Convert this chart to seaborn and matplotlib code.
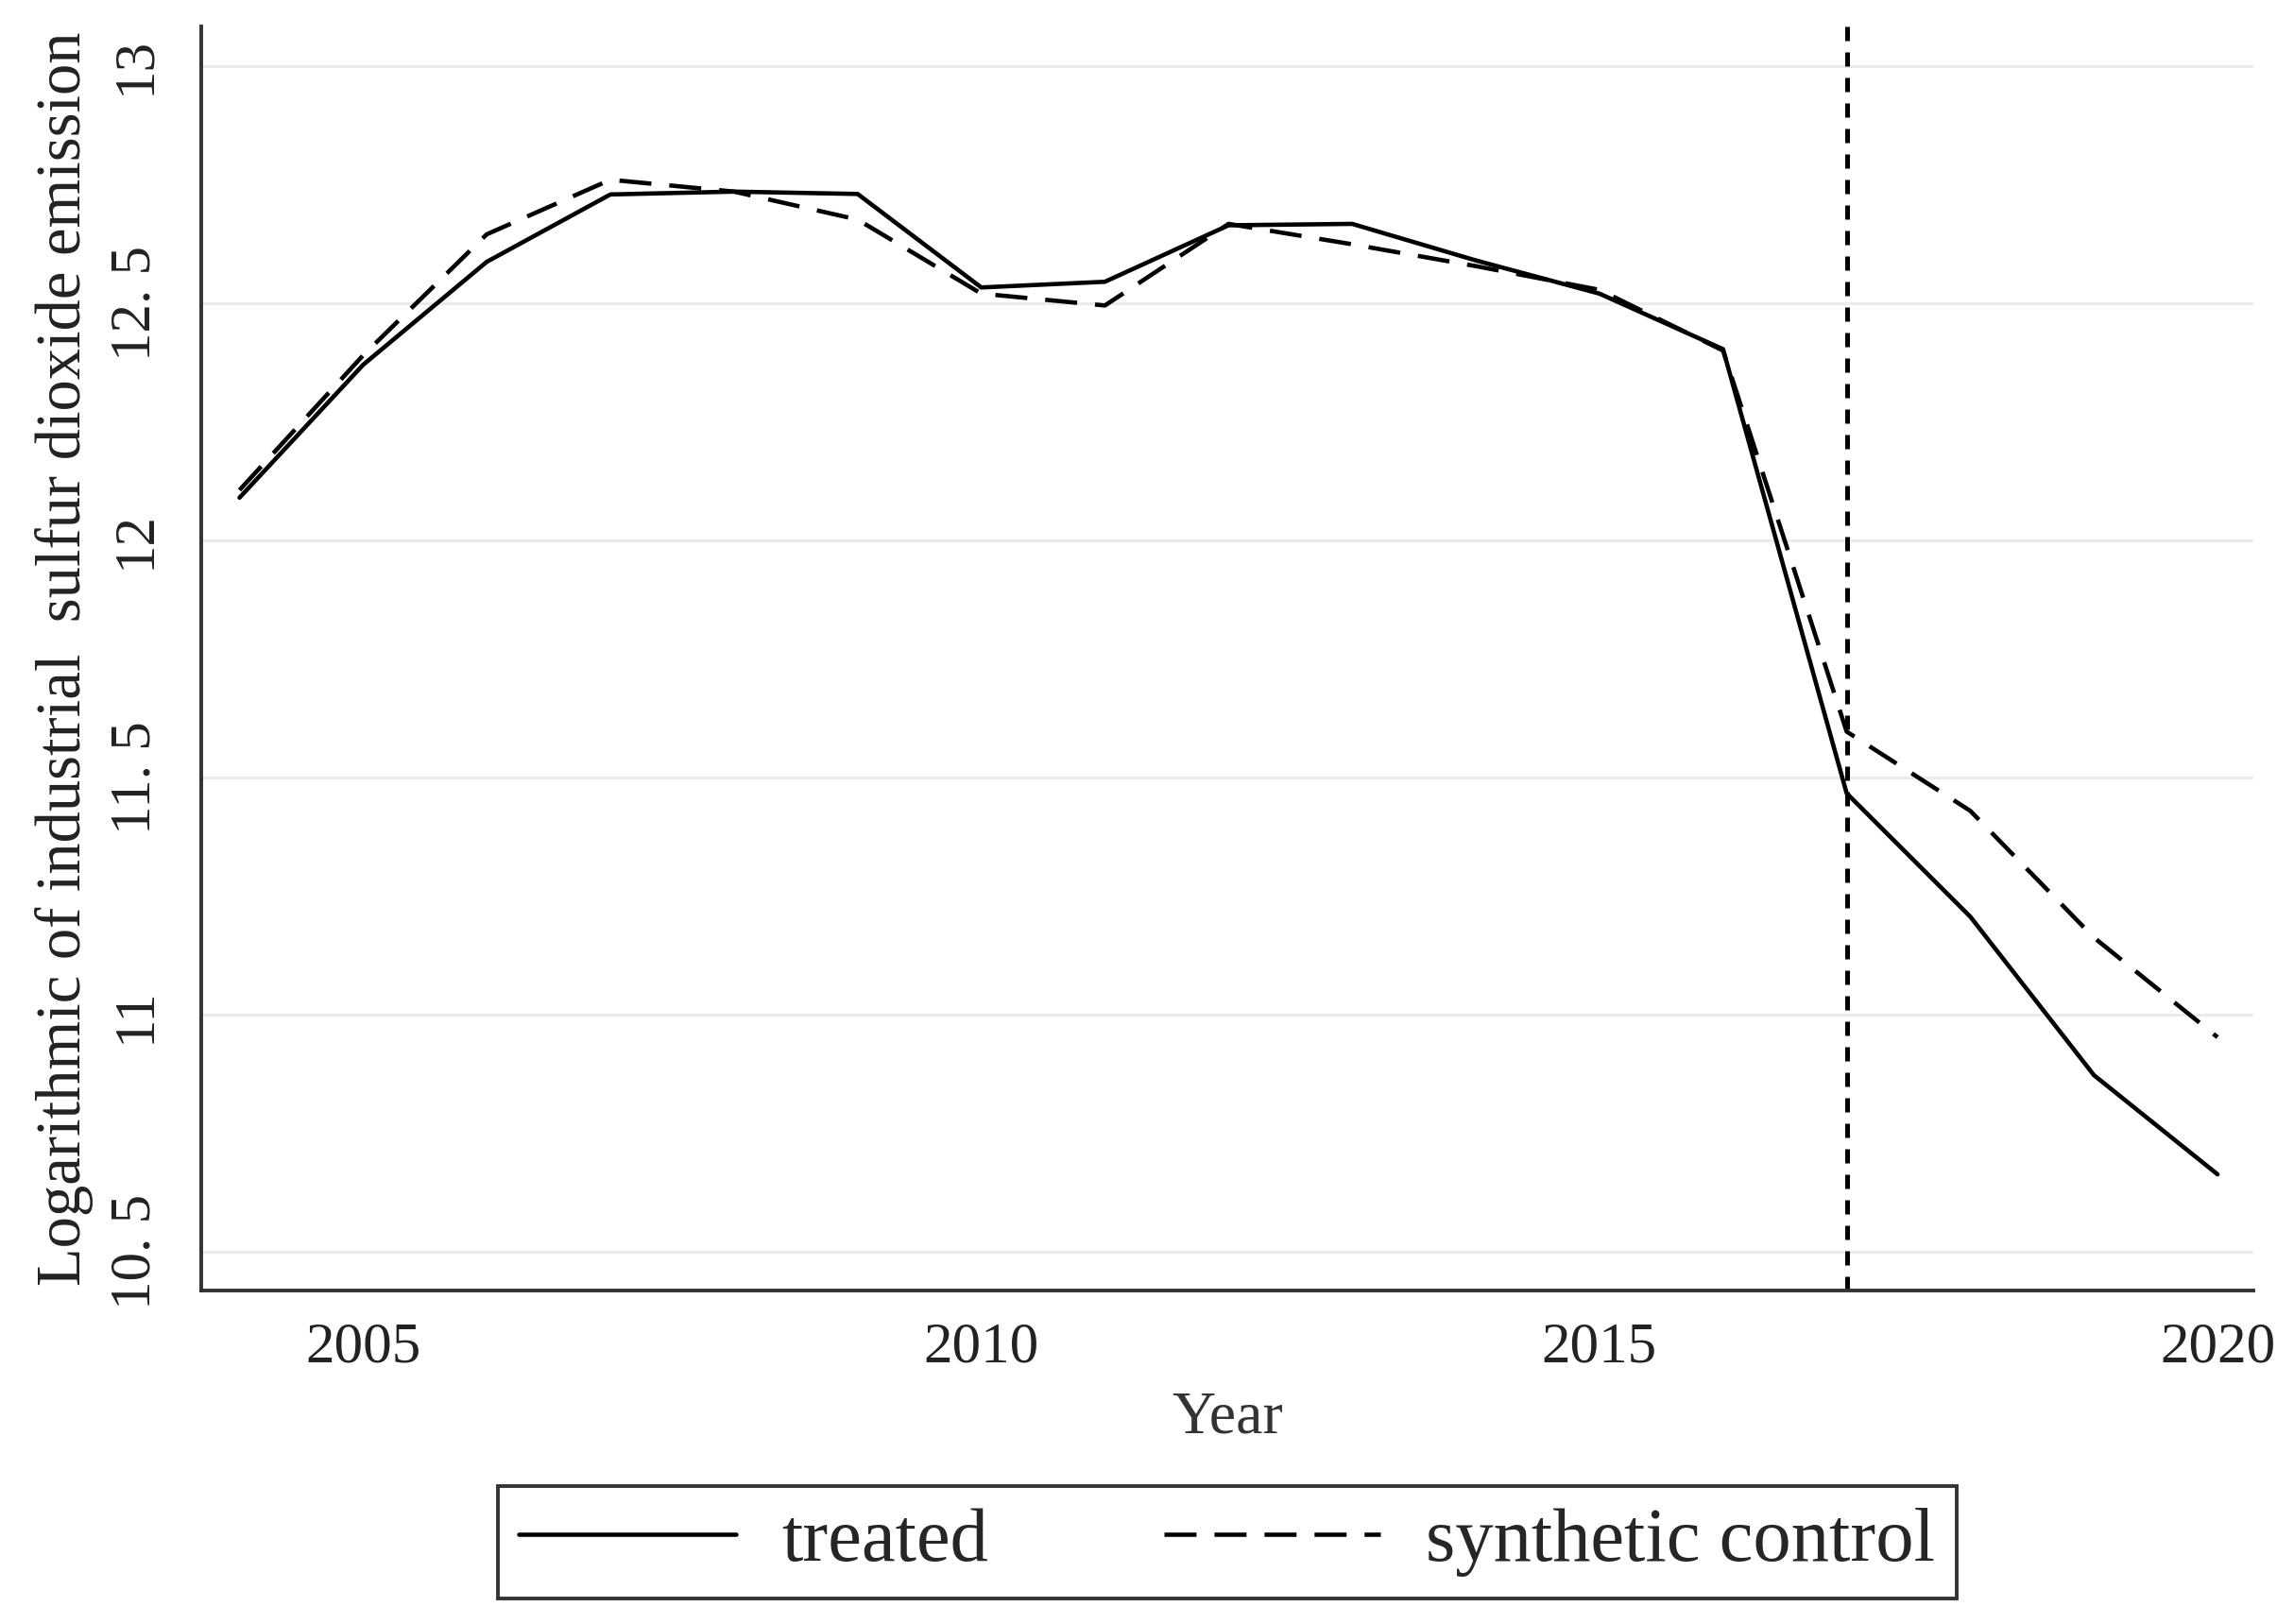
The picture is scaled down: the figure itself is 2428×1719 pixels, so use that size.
import pandas as pd
import seaborn as sns
import matplotlib.pyplot as plt

years = list(range(2004, 2021))
treated = [12.09, 12.37, 12.587, 12.729, 12.735, 12.73, 12.533, 12.545, 12.664, 12.667,
           12.59, 12.52, 12.403, 11.467, 11.207, 10.873, 10.664]
synthetic = [12.106, 12.39, 12.645, 12.76, 12.735, 12.676, 12.52, 12.495, 12.667, 12.624,
             12.578, 12.528, 12.40, 11.597, 11.43, 11.163, 10.953]
series_names = ['treated', 'synthetic control']
treat_year = 2017
y_ticks = [10.5, 11, 11.5, 12, 12.5, 13]
y_tick_labels = ['10. 5', '11', '11. 5', '12', '12. 5', '13']
x_ticks = [2005, 2010, 2015, 2020]

df = pd.DataFrame({
    'year': years * 2,
    'value': treated + synthetic,
    'series': [series_names[0]] * len(years) + [series_names[1]] * len(years),
})

sns.set_style('white')
plt.rcParams['font.family'] = ['Liberation Serif', 'DejaVu Serif']

fig = plt.figure(figsize=(24.28, 17.19), dpi=100)
ax_left, ax_right = 0.0877, 0.9823
ax = fig.add_axes([ax_left, 0.2053, ax_right - ax_left, 0.9837 - 0.2053])

sns.lineplot(data=df, x='year', y='value', style='series', color='black',
             dashes={series_names[0]: '', series_names[1]: (7.4, 4.15)},
             linewidth=3.3, ax=ax)

# treatment year marker
ax.axvline(treat_year, color='black', linewidth=3.6, linestyle=(0, (3.0, 2.4)))

ax.set_xlim(2003.69, 2020.29)
ax.set_ylim(10.419, 13.083)
ax.set_xticks(x_ticks)
ax.set_xticklabels([str(x) for x in x_ticks])
ax.set_yticks(y_ticks)
ax.set_yticklabels(y_tick_labels, rotation=90, va='center')

ax.yaxis.grid(True, color='#ebebeb', linewidth=2.2)
ax.xaxis.grid(False)
ax.set_axisbelow(True)

sns.despine(ax=ax)
for side in ['left', 'bottom']:
    ax.spines[side].set_color('#333333')
    ax.spines[side].set_linewidth(2.8)

ax.tick_params(axis='both', which='major', direction='out', length=18, width=2.0,
               color='#333333', labelsize=44, labelcolor='#222222')
ax.tick_params(axis='x', pad=6)
ax.tick_params(axis='y', pad=12)

ax.set_xlabel('Year', fontsize=46, color='#333333', labelpad=13)
ax.set_ylabel('Logarithmic of industrial  sulfur dioxide emission', fontsize=48,
              color='#222222', labelpad=12)

handles, labels = ax.get_legend_handles_labels()
ax.legend(handles, labels, loc='upper center',
          bbox_to_anchor=((ax_left + ax_right) / 2, 0.0849),
          bbox_transform=fig.transFigure, ncol=2, fontsize=58, frameon=True,
          fancybox=False, edgecolor='#333333', borderpad=0.28, borderaxespad=0,
          handlelength=2.85, handletextpad=0.6, columnspacing=2.3, framealpha=1)
ax.get_legend().get_frame().set_linewidth(2.8)

fig.savefig('out.png', dpi=100, facecolor='white')
